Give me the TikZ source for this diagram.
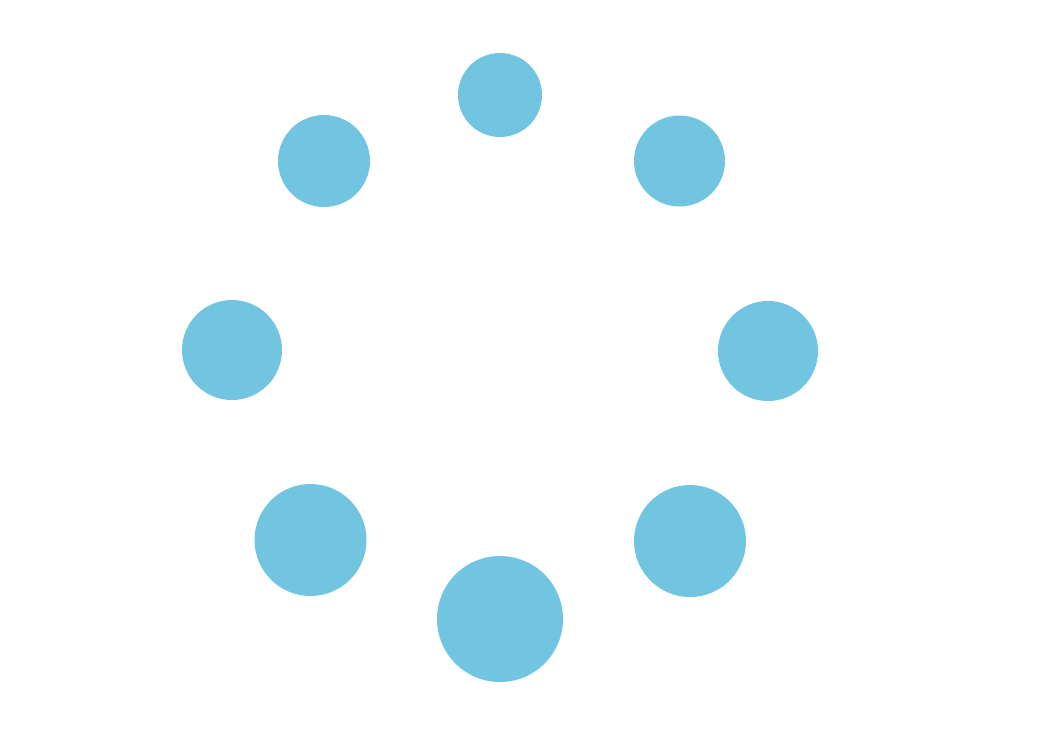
\documentclass[tikz,border=0pt]{standalone}
\definecolor{dotblue}{HTML}{72C5E0}
\begin{document}
\begin{tikzpicture}[x=1pt,y=-1pt,
  dot/.style={circle,fill=dotblue,draw=none,inner sep=0pt,minimum size=#1}]
\useasboundingbox (0,0) rectangle (1052,748);
\node[dot=84pt]  (top) at (500,95) {};
\node[dot=92pt]  (ul)  at (324,161) {};
\node[dot=91pt]  (ur)  at (679.5,161) {};
\node[dot=100pt] (l)   at (232,350) {};
\node[dot=100pt] (r)   at (768,351) {};
\node[dot=112pt] (ll)  at (310.5,540) {};
\node[dot=112pt] (lr)  at (690,541) {};
\node[dot=126pt] (b)   at (500,619) {};
\end{tikzpicture}
\end{document}
